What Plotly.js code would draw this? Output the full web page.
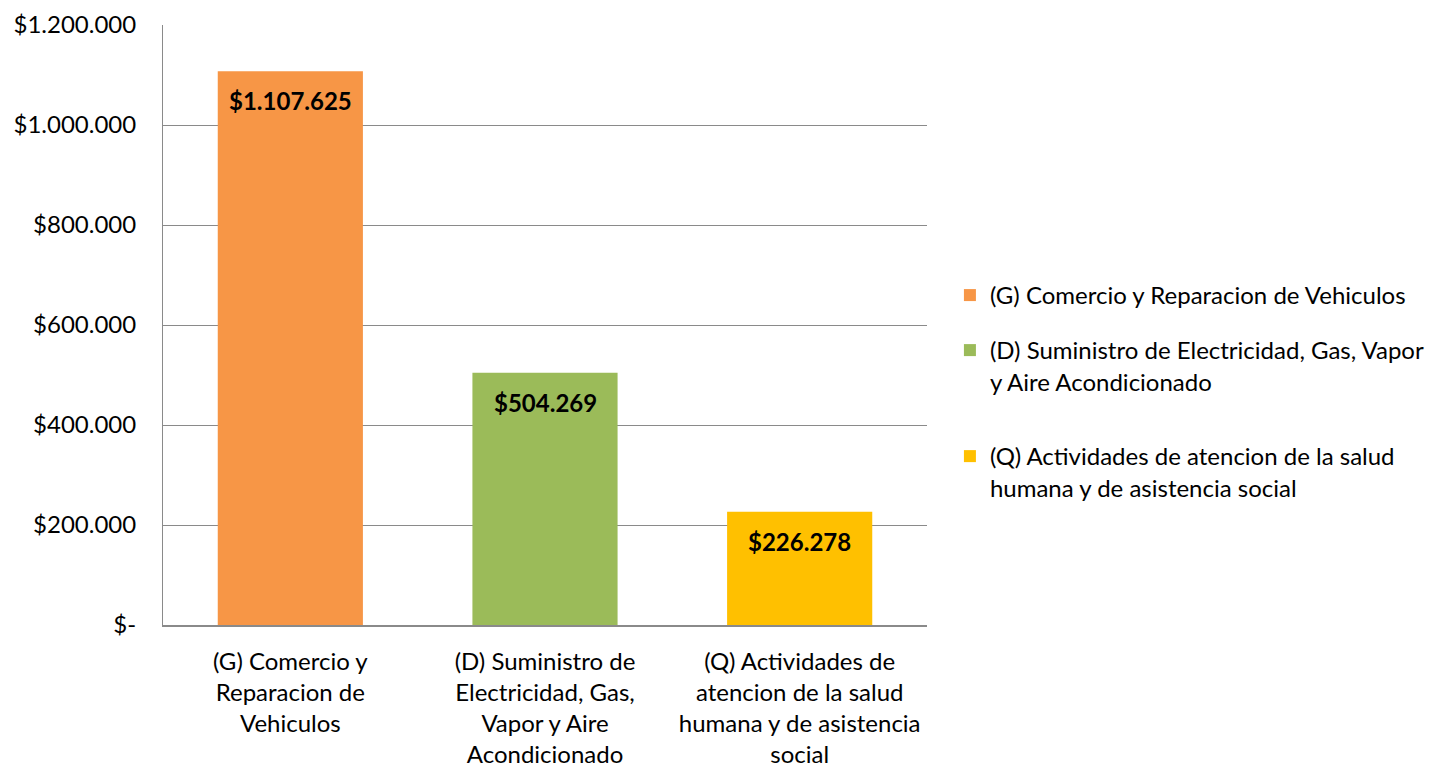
<!DOCTYPE html>
<html>
<head>
<meta charset="utf-8">
<script src="https://cdn.plot.ly/plotly-3.0.1.min.js"></script>
<style>html,body{margin:0;padding:0;background:#fff;}#chart{width:1444px;height:768px;}</style>
</head>
<body>
<div id="chart"></div>
<script>
const categories = [
  "(G) Comercio y Reparacion de Vehiculos",
  "(D) Suministro de Electricidad, Gas, Vapor y Aire Acondicionado",
  "(Q) Actividades de atencion de la salud humana y de asistencia social"
];
const axisLabels = [
  "(G) Comercio y<br>Reparacion de<br>Vehiculos",
  "(D) Suministro de<br>Electricidad, Gas,<br>Vapor y Aire<br>Acondicionado",
  "(Q) Actividades de<br>atencion de la salud<br>humana y de asistencia<br>social"
];
const legendLabels = [
  "(G) Comercio y Reparacion de Vehiculos",
  "(D) Suministro de Electricidad, Gas, Vapor<br>y Aire Acondicionado",
  "(Q) Actividades de atencion de la salud<br>humana y de asistencia social"
];
const values = [1107625, 504269, 226278];
const valueLabels = ["$1.107.625", "$504.269", "$226.278"];
const colors = ["#F79646", "#9BBB59", "#FFC000"];
const yTickVals = [0, 200000, 400000, 600000, 800000, 1000000, 1200000];
const yTickText = ["$-", "$200.000", "$400.000", "$600.000", "$800.000", "$1.000.000", "$1.200.000"];

const FONT = "Lato, 'Open Sans', sans-serif";
const legendIds = ["legend", "legend2", "legend3"];
const legendY = [0.5867, 0.495, 0.3183];

const traces = categories.map((c, i) => ({
  type: "bar",
  x: [c],
  y: [values[i]],
  name: legendLabels[i],
  legend: legendIds[i],
  marker: {color: colors[i]},
  hoverinfo: "skip"
}));

const annotations = categories.map((c, i) => ({
  x: c, y: values[i], xref: "x", yref: "y",
  text: "<b>" + valueLabels[i] + "</b>",
  showarrow: false, yanchor: "top", yshift: -13,
  font: {family: FONT, size: 24, color: "#000"}
}));

const layout = {
  width: 1444, height: 768,
  margin: {l: 163, r: 517, t: 25, b: 143},
  paper_bgcolor: "#fff", plot_bgcolor: "#fff",
  font: {family: FONT, size: 24, color: "#000"},
  barmode: "overlay",
  bargap: 0.43,
  showlegend: true,
  xaxis: {
    type: "category",
    tickvals: categories, ticktext: axisLabels,
    showline: true, linecolor: "#8a8a8a", linewidth: 2,
    showgrid: false, ticks: "", fixedrange: true, ticklabelstandoff: 14,
    tickfont: {family: FONT, size: 24, color: "#000"}
  },
  yaxis: {
    range: [0, 1200000],
    tickvals: yTickVals, ticktext: yTickText,
    showline: true, linecolor: "#8a8a8a", linewidth: 1,
    showgrid: true, gridcolor: "#8a8a8a", gridwidth: 1,
    zeroline: false, ticks: "", ticklabelstandoff: 21,
    tickfont: {family: FONT, size: 24, color: "#000"}
  },
  annotations: annotations
};
legendIds.forEach((id, i) => {
  layout[id] = {
    x: 1.03, xanchor: "left", y: legendY[i], yanchor: "top",
    valign: "top",
    font: {family: FONT, size: 24, color: "#000"},
    bgcolor: "rgba(0,0,0,0)"
  };
});

Plotly.newPlot("chart", traces, layout, {displayModeBar: false, staticPlot: true});
</script>
</body>
</html>
